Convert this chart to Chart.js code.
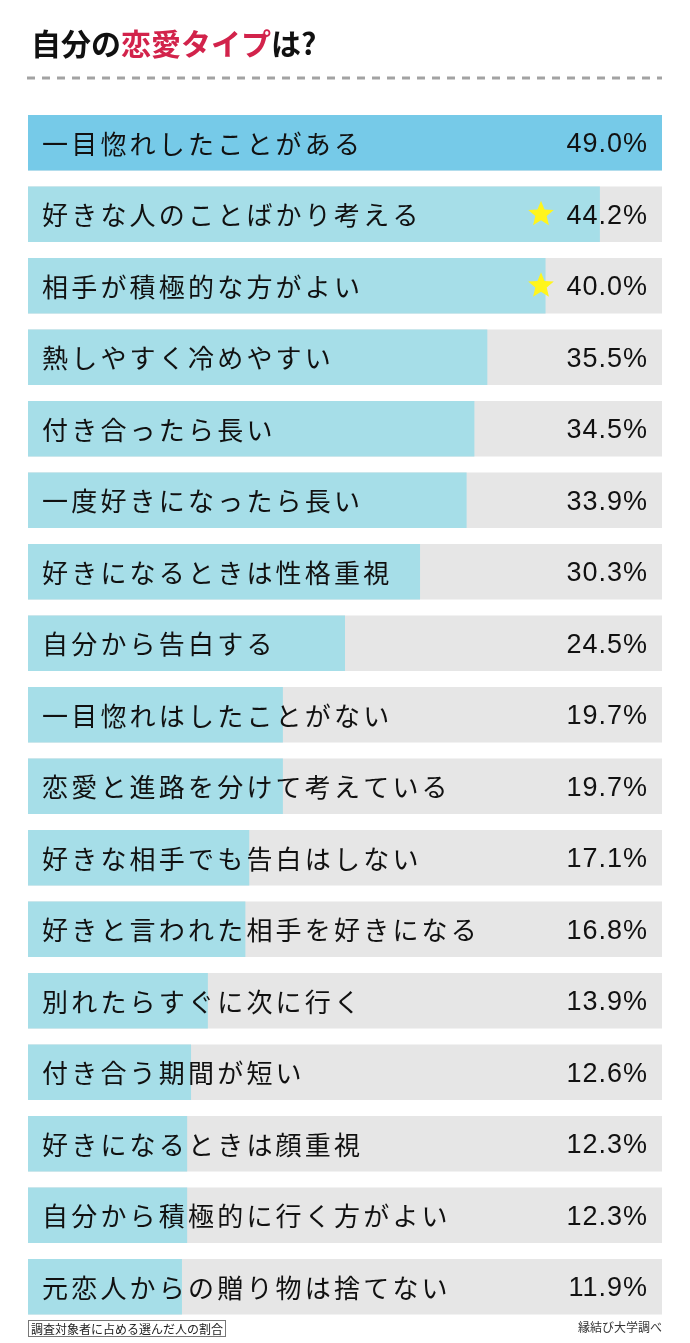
<!DOCTYPE html>
<html lang="ja">
<head>
<meta charset="utf-8">
<title>自分の恋愛タイプは?</title>
<script src="https://cdn.jsdelivr.net/npm/chart.js@4"></script>
<style>
  html, body { margin: 0; padding: 0; background: #fff; }
  body { width: 690px; height: 1343px; position: relative; overflow: hidden; }
  #chart { position: absolute; left: 0; top: 0; }
  .title {
    position: absolute; left: 31px; top: 22px; margin: 0;
    font: bold 30px "Noto Sans CJK JP", sans-serif; color: #111; line-height: 40px;
  }
  .title .hl { color: #d2234b; }
  .note {
    position: absolute; left: 28px; top: 1320px; height: 15px;
    border: 1px solid #777; padding: 0 2px;
    font: 12px/15px "Noto Sans CJK JP", sans-serif; color: #222;
  }
  .source {
    position: absolute; right: 28px; top: 1319px;
    font: 12px/16px "Noto Sans CJK JP", sans-serif; color: #333;
  }
</style>
</head>
<body>
<canvas id="chart" width="690" height="1343"></canvas>
<h1 class="title">自分の<span class="hl">恋愛タイプ</span>は?</h1>
<div class="note">調査対象者に占める選んだ人の割合</div>
<div class="source">縁結び大学調べ</div>

<script>
// Data
const categories = [
    '一目惚れしたことがある',
    '好きな人のことばかり考える',
    '相手が積極的な方がよい',
    '熱しやすく冷めやすい',
    '付き合ったら長い',
    '一度好きになったら長い',
    '好きになるときは性格重視',
    '自分から告白する',
    '一目惚れはしたことがない',
    '恋愛と進路を分けて考えている',
    '好きな相手でも告白はしない',
    '好きと言われた相手を好きになる',
    '別れたらすぐに次に行く',
    '付き合う期間が短い',
    '好きになるときは顔重視',
    '自分から積極的に行く方がよい',
    '元恋人からの贈り物は捨てない'
];
const percents = [49.0, 44.2, 40.0, 35.5, 34.5, 33.9, 30.3, 24.5, 19.7, 19.7, 17.1, 16.8, 13.9, 12.6, 12.3, 12.3, 11.9];
const starredRows = [1, 2];
const axisMax = 49;

const topColor = '#76cae8';
const barColor = '#a6dee8';
const trackColor = '#e6e6e6';

function drawStar(ctx, cx, cy, outer, inner) {
    ctx.beginPath();
    for (let i = 0; i < 10; i++) {
        const r = i % 2 === 0 ? outer : inner;
        const a = -Math.PI / 2 + i * Math.PI / 5;
        const px = cx + r * Math.cos(a);
        const py = cy + r * Math.sin(a);
        if (i === 0) ctx.moveTo(px, py); else ctx.lineTo(px, py);
    }
    ctx.closePath();
    ctx.fill();
}

// Dashed rule under the title, labels and values inside the bars
const decorPlugin = {
    id: 'decor',
    beforeDraw(chart) {
        const ctx = chart.ctx;
        ctx.save();
        ctx.strokeStyle = '#a3a3a3';
        ctx.lineWidth = 3;
        ctx.setLineDash([8, 7]);
        ctx.beginPath();
        ctx.moveTo(27, 78);
        ctx.lineTo(662, 78);
        ctx.stroke();
        ctx.restore();
    },
    afterDatasetsDraw(chart) {
        const ctx = chart.ctx;
        const area = chart.chartArea;
        const yScale = chart.scales.y;
        ctx.save();
        ctx.textBaseline = 'middle';
        ctx.fillStyle = '#111';
        categories.forEach((label, i) => {
            const y = yScale.getPixelForValue(i);
            ctx.font = '26px "Noto Sans CJK JP", sans-serif';
            ctx.letterSpacing = '3.2px';
            ctx.textAlign = 'left';
            ctx.fillText(label, area.left + 14, y + 1);

            ctx.font = '27px "Liberation Sans", Arial, sans-serif';
            ctx.letterSpacing = '1px';
            ctx.textAlign = 'right';
            ctx.fillText(percents[i].toFixed(1) + '%', area.right - 14, y + 2);
        });
        ctx.letterSpacing = '0px';
        ctx.fillStyle = '#fff51c';
        starredRows.forEach(i => {
            drawStar(ctx, area.right - 121, yScale.getPixelForValue(i), 13.5, 6);
        });
        ctx.restore();
    }
};

new Chart(document.getElementById('chart'), {
    type: 'bar',
    data: {
        labels: categories,
        datasets: [{
            data: percents,
            backgroundColor: percents.map((v, i) => i === 0 ? topColor : barColor),
            grouped: false,
            order: 1,
            barPercentage: 0.776,
            categoryPercentage: 1
        }, {
            data: categories.map(() => axisMax),
            backgroundColor: trackColor,
            grouped: false,
            order: 2,
            barPercentage: 0.776,
            categoryPercentage: 1
        }]
    },
    options: {
        indexAxis: 'y',
        responsive: false,
        animation: false,
        devicePixelRatio: 1,
        layout: {
            padding: { left: 28, right: 28, top: 107, bottom: 20.5 }
        },
        plugins: {
            legend: { display: false },
            tooltip: { enabled: false }
        },
        scales: {
            x: { display: false, min: 0, max: axisMax },
            y: { display: false }
        }
    },
    plugins: [decorPlugin]
});
</script>
</body>
</html>
